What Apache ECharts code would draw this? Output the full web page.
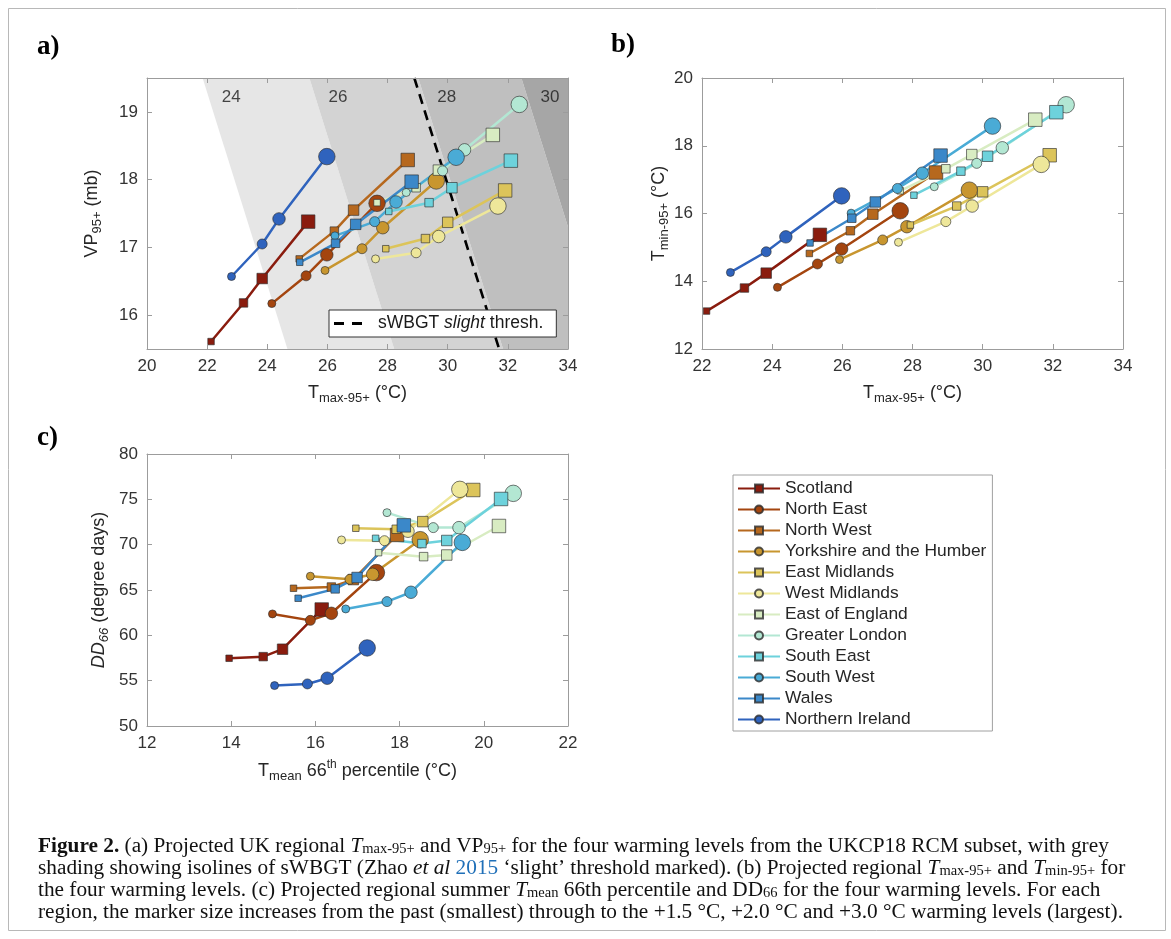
<!DOCTYPE html>
<html>
<head>
<meta charset="utf-8">
<script src="https://cdn.jsdelivr.net/npm/echarts@6/dist/echarts.min.js"></script>
<style>
  html, body { margin: 0; padding: 0; background: #fff; }
  #main { width: 1171px; height: 939px; }
</style>
</head>
<body>
<div id="main"></div>
<script>
// regions, in legend order
const regions = ['Scotland', 'North East', 'North West', 'Yorkshire and the Humber', 'East Midlands',
  'West Midlands', 'East of England', 'Greater London', 'South East', 'South West', 'Wales', 'Northern Ireland'];
// warming levels: past, +1.5, +2.0, +3.0
const levels = ['past', '+1.5 °C', '+2.0 °C', '+3.0 °C'];

// Tmax-95+ (°C), one row per region, one value per warming level
const tmax95 = [
  [22.13, 23.21, 23.83, 25.36],
  [24.15, 25.29, 25.98, 27.65],
  [25.06, 26.23, 26.87, 28.67],
  [25.92, 27.15, 27.84, 29.62],
  [27.94, 29.26, 30.00, 31.91],
  [27.60, 28.95, 29.70, 31.67],
  [27.65, 28.95, 29.69, 31.50],
  [28.62, 29.83, 30.56, 32.38],
  [28.04, 29.38, 30.14, 32.10],
  [26.25, 27.57, 28.28, 30.28],
  [25.08, 26.27, 26.94, 28.80],
  [22.81, 23.83, 24.39, 25.98]
];
// VP95+ (mb)
const vp95 = [
  [15.61, 16.18, 16.54, 17.38],
  [16.17, 16.58, 16.89, 17.65],
  [16.83, 17.24, 17.55, 18.29],
  [16.66, 16.98, 17.29, 17.98],
  [16.98, 17.13, 17.37, 17.84],
  [16.83, 16.92, 17.16, 17.61],
  [17.66, 17.88, 18.14, 18.66],
  [17.81, 18.13, 18.44, 19.11],
  [17.53, 17.66, 17.88, 18.28],
  [17.17, 17.38, 17.67, 18.33],
  [16.78, 17.06, 17.34, 17.97],
  [16.57, 17.05, 17.42, 18.34]
];
// Tmin-95+ (°C)
const tmin95 = [
  [13.12, 13.80, 14.24, 15.37],
  [13.82, 14.51, 14.95, 16.08],
  [14.82, 15.49, 15.98, 17.21],
  [14.64, 15.22, 15.61, 16.69],
  [15.66, 16.22, 16.64, 17.72],
  [15.15, 15.76, 16.22, 17.45],
  [16.67, 17.32, 17.74, 18.77],
  [16.79, 17.48, 17.94, 19.21],
  [16.54, 17.25, 17.69, 18.99],
  [16.01, 16.74, 17.19, 18.58],
  [15.13, 15.86, 16.34, 17.71],
  [14.26, 14.87, 15.31, 16.52]
];
// Tmean 66th percentile (°C)
const tmean66 = [
  [13.95, 14.76, 15.22, 16.15],
  [14.98, 15.88, 16.38, 17.45],
  [15.48, 16.38, 16.90, 17.94],
  [15.88, 16.82, 17.36, 18.49],
  [16.96, 17.92, 18.55, 19.75],
  [16.62, 17.64, 18.20, 19.43],
  [17.50, 18.57, 19.12, 20.36],
  [17.70, 18.80, 19.41, 20.70],
  [17.43, 18.53, 19.12, 20.41],
  [16.72, 17.70, 18.27, 19.49],
  [15.59, 16.47, 16.99, 18.10],
  [15.03, 15.81, 16.28, 17.23]
];
// DD66 (degree days)
const dd66 = [
  [57.47, 57.65, 58.47, 62.85],
  [62.36, 61.65, 62.43, 66.92],
  [65.19, 65.33, 66.15, 71.07],
  [66.52, 66.18, 66.73, 70.55],
  [71.81, 71.70, 72.54, 76.03],
  [70.52, 70.44, 71.48, 76.10],
  [69.12, 68.68, 68.86, 72.06],
  [73.53, 71.88, 71.88, 75.66],
  [70.70, 70.12, 70.46, 75.04],
  [62.91, 63.72, 64.75, 70.25],
  [64.09, 65.12, 66.38, 72.13],
  [54.46, 54.64, 55.27, 58.61]
];

// sWBGT isolines in panel a: value, Tmax where it meets VP=19.5 and VP=15.5
const wbgtLevels = [24, 26, 28, 30];
const wbgtTopX = [21.85, 25.40, 29.02, 32.45];
const wbgtBottomX = [24.67, 28.22, 31.84, 35.27];
// sWBGT 'slight' threshold line
const threshTmax = [28.89, 31.71];
const threshVP = [19.5, 15.5];

// tick labels
const vpTicks = [16, 17, 18, 19];

const regionColors = ['#8a1c0e', '#a4450f', '#b6681e', '#c8962f', '#dcc45a', '#eee79a',
  '#d8ecc2', '#b3e7d3', '#6dd2dc', '#4aabd6', '#3b88c9', '#2f63bd'];
const regionSymbols = ['rect', 'circle', 'rect', 'circle', 'rect', 'circle',
  'rect', 'circle', 'rect', 'circle', 'rect', 'circle'];
const circleSizes = [8, 10, 12.5, 16.5];
const squareSizes = [6.5, 8.5, 10.5, 13.5];
const bandFills = ['#e6e6e6', '#d3d3d3', '#bfbfbf', '#a6a6a6'];

const FONT = 'Liberation Sans, Arial, sans-serif';
const SERIF = 'Liberation Serif, Times New Roman, serif';
const axisGrey = '#9c9c9c';

const nameRich = {
  t: { fontSize: 18, lineHeight: 24, color: '#262626', fontFamily: FONT },
  ti: { fontSize: 18, lineHeight: 24, color: '#262626', fontFamily: FONT, fontStyle: 'italic' },
  s: { fontSize: 13, lineHeight: 13, verticalAlign: 'bottom', color: '#262626', fontFamily: FONT },
  si: { fontSize: 13, lineHeight: 13, verticalAlign: 'bottom', color: '#262626', fontFamily: FONT, fontStyle: 'italic' },
  p: { fontSize: 12, lineHeight: 12, verticalAlign: 'top', color: '#262626', fontFamily: FONT }
};

function makeX(grid, min, max, step, name, gap) {
  return [{
    gridIndex: grid, type: 'value', min: min, max: max, interval: step, position: 'bottom', z: 5,
    name: name, nameLocation: 'middle', nameGap: gap,
    nameTextStyle: { rich: nameRich },
    axisLine: { show: true, onZero: false, lineStyle: { color: axisGrey, width: 1 } },
    axisTick: { show: true, inside: true, length: 5, lineStyle: { color: axisGrey } },
    axisLabel: { color: '#333', fontSize: 17, fontFamily: FONT, margin: 9 },
    splitLine: { show: false }
  }, {
    gridIndex: grid, type: 'value', min: min, max: max, interval: step, position: 'top', z: 5,
    axisLine: { show: true, onZero: false, lineStyle: { color: axisGrey, width: 1 } },
    axisTick: { show: true, inside: true, length: 5, lineStyle: { color: axisGrey } },
    axisLabel: { show: false }, splitLine: { show: false }
  }];
}

function makeY(grid, min, max, step, name, gap, ticks) {
  const tickOpt = { show: true, inside: true, length: 5, lineStyle: { color: axisGrey } };
  const labelOpt = { color: '#333', fontSize: 17, fontFamily: FONT, margin: 9 };
  const base = { gridIndex: grid, type: 'value', min: min, max: max, z: 5, splitLine: { show: false } };
  if (ticks) {
    tickOpt.customValues = ticks;
    labelOpt.customValues = ticks;
  } else {
    base.interval = step;
  }
  return [Object.assign({}, base, {
    position: 'left', name: name, nameLocation: 'middle', nameGap: gap, nameRotate: 90,
    nameMoveOverlap: false,
    nameTextStyle: { rich: nameRich },
    axisLine: { show: true, onZero: false, lineStyle: { color: axisGrey, width: 1 } },
    axisTick: tickOpt, axisLabel: labelOpt
  }), Object.assign({}, base, {
    position: 'right',
    axisLine: { show: true, onZero: false, lineStyle: { color: axisGrey, width: 1 } },
    axisTick: tickOpt, axisLabel: { show: false }
  })];
}

const xAxes = [].concat(
  makeX(0, 20, 34, 2, '{t|T}{s|max-95+}{t| (°C)}', 32),
  makeX(1, 22, 34, 2, '{t|T}{s|max-95+}{t| (°C)}', 32),
  makeX(2, 12, 22, 2, '{t|T}{s|mean}{t| 66}{p|th}{t| percentile (°C)}', 33)
);
const yAxes = [].concat(
  makeY(0, 15.5, 19.5, 1, '{t|VP}{s|95+}{t| (mb)}', 43, vpTicks),
  makeY(1, 12, 20, 2, '{t|T}{s|min-95+}{t| (°C)}', 31),
  makeY(2, 50, 80, 5, '{ti|DD}{si|66}{t| (degree days)}', 36)
);

// clip a polygon (data coords) to x <= xmax
function clipRight(points, xmax) {
  const out = [];
  for (let i = 0; i < points.length; i++) {
    const a = points[i], b = points[(i + 1) % points.length];
    const ain = a[0] <= xmax, bin = b[0] <= xmax;
    if (ain) out.push(a);
    if (ain !== bin) {
      const t = (xmax - a[0]) / (b[0] - a[0]);
      out.push([xmax, a[1] + t * (b[1] - a[1])]);
    }
  }
  return out;
}

const series = [];

// grey sWBGT bands
series.push({
  type: 'custom', xAxisIndex: 0, yAxisIndex: 0, silent: true, z: 1,
  data: wbgtLevels.map(function (v, k) { return [k]; }),
  renderItem: function (params, api) {
    const k = api.value(0);
    const last = k === wbgtLevels.length - 1;
    const rTop = last ? 40 : wbgtTopX[k + 1];
    const rBot = last ? 40 : wbgtBottomX[k + 1];
    const poly = clipRight([[wbgtTopX[k], 19.5], [rTop, 19.5], [rBot, 15.5], [wbgtBottomX[k], 15.5]], 34);
    return {
      type: 'polygon',
      shape: { points: poly.map(function (p) { return api.coord(p); }) },
      style: { fill: bandFills[k] }
    };
  }
});

// isoline value labels
series.push({
  type: 'scatter', xAxisIndex: 0, yAxisIndex: 0, silent: true, z: 2, symbolSize: 0,
  data: wbgtLevels.map(function (v, k) { return { value: [wbgtTopX[k] + 0.95, 19.22], name: String(v) }; }),
  label: { show: true, position: 'inside', formatter: '{b}', color: '#1a1a1a', fontSize: 17, fontFamily: FONT }
});

// threshold line
series.push({
  name: 'thresh', type: 'line', xAxisIndex: 0, yAxisIndex: 0, silent: true, z: 2,
  symbol: 'none',
  data: threshTmax.map(function (x, i) { return [x, threshVP[i]]; }),
  lineStyle: { color: '#000', width: 2.6, type: [10, 7] },
  itemStyle: { color: '#000' }
});

const panels = [
  { xi: 0, yi: 0, xs: tmax95, ys: vp95 },
  { xi: 2, yi: 2, xs: tmax95, ys: tmin95 },
  { xi: 4, yi: 4, xs: tmean66, ys: dd66 }
];

regions.forEach(function (name, r) {
  const sizes = regionSymbols[r] === 'rect' ? squareSizes : circleSizes;
  panels.forEach(function (p) {
    series.push({
      name: name, type: 'line', xAxisIndex: p.xi, yAxisIndex: p.yi, z: 3, silent: true,
      symbol: regionSymbols[r], showAllSymbol: true,
      data: p.xs[r].map(function (x, i) {
        return { value: [x, p.ys[r][i]], symbolSize: sizes[i] };
      }),
      lineStyle: { color: regionColors[r], width: 2.5 },
      itemStyle: { color: regionColors[r], borderColor: 'rgba(45,45,45,0.8)', borderWidth: 0.8 }
    });
  });
});

const caption = [
  '{b|Figure 2.} (a) Projected UK regional {i|T}{s|max-95+} and VP{s|95+} for the four warming levels from the UKCP18 RCM subset, with grey',
  'shading showing isolines of sWBGT (Zhao {i|et al} {l|2015} ‘slight’ threshold marked). (b) Projected regional {i|T}{s|max-95+} and {i|T}{s|min-95+} for',
  'the four warming levels. (c) Projected regional summer {i|T}{s|mean} 66th percentile and DD{s|66} for the four warming levels. For each',
  'region, the marker size increases from the past (smallest) through to the +1.5 °C, +2.0 °C and +3.0 °C warming levels (largest).'
];
const CAP = 21.3;
const capRich = {
  b: { fontWeight: 'bold', fontFamily: SERIF, fontSize: CAP, lineHeight: 22 },
  i: { fontStyle: 'italic', fontFamily: SERIF, fontSize: CAP, lineHeight: 22 },
  l: { fill: '#1f6fb8', fontFamily: SERIF, fontSize: CAP, lineHeight: 22 },
  s: { fontFamily: SERIF, fontSize: 14.5, lineHeight: 14, verticalAlign: 'bottom' }
};

const graphics = [
  { type: 'rect', shape: { x: 8.5, y: 8.5, width: 1157, height: 922 }, style: { fill: 'none', stroke: '#b8b8b8', lineWidth: 1 }, z: -1 },
  { type: 'text', x: 37, y: 34, style: { text: 'a)', font: 'bold 27px ' + SERIF, fill: '#000' } },
  { type: 'text', x: 611, y: 32, style: { text: 'b)', font: 'bold 27px ' + SERIF, fill: '#000' } },
  { type: 'text', x: 37, y: 425, style: { text: 'c)', font: 'bold 27px ' + SERIF, fill: '#000' } }
];
caption.forEach(function (line, i) {
  graphics.push({
    type: 'text', x: 38, y: 835 + i * 22,
    style: { text: line, fontFamily: SERIF, fontSize: CAP, lineHeight: 22, fill: '#111', rich: capRich }
  });
});

const chart = echarts.init(document.getElementById('main'));
chart.setOption({
  animation: false,
  backgroundColor: '#fff',
  grid: [
    { left: 147, top: 78, width: 421, height: 271 },
    { left: 702, top: 78, width: 421, height: 271 },
    { left: 147, top: 454, width: 421, height: 272 }
  ],
  xAxis: xAxes,
  yAxis: yAxes,
  legend: [{
    data: regions, orient: 'vertical', left: 733, top: 475,
    itemWidth: 42, itemHeight: 10, itemGap: 0, selectedMode: false,
    padding: [3, 6, 1, 4], borderColor: '#a0a0a0', borderWidth: 1, backgroundColor: '#fff',
    textStyle: { fontSize: 17.4, fontFamily: FONT, color: '#262626', lineHeight: 21 }
  }, {
    data: ['thresh'], orient: 'horizontal', left: 329, top: 310,
    itemWidth: 28, itemHeight: 3, selectedMode: false,
    icon: 'path://M0,0H10V3H0Z M18,0H28V3H18Z',
    padding: [4, 13, 4, 5], borderColor: '#333', borderWidth: 1, backgroundColor: '#fff',
    formatter: function () { return '{sp|}{a|sWBGT} {i|slight} {a|thresh.}'; },
    textStyle: {
      fontSize: 17.5, fontFamily: FONT, color: '#1a1a1a', lineHeight: 19,
      rich: {
        sp: { width: 11 },
        a: { fontSize: 17.5, fontFamily: FONT, color: '#1a1a1a' },
        i: { fontSize: 17.5, fontFamily: FONT, color: '#1a1a1a', fontStyle: 'italic' }
      }
    }
  }],
  graphic: graphics,
  series: series
});
</script>
</body>
</html>
